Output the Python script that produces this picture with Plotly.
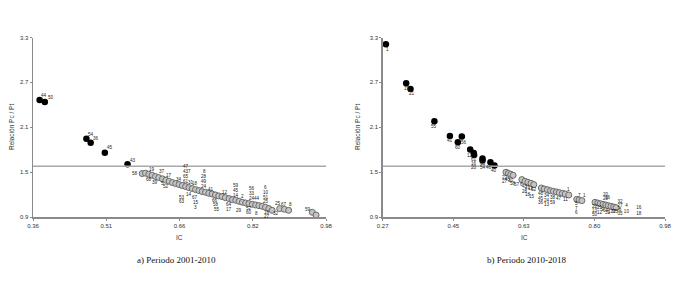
import plotly.graph_objects as go

# ---------------- DATA ----------------
threshold = 1.58

# Panel a) 2001-2010
a_black_x = [0.374, 0.385, 0.473, 0.482, 0.512, 0.560]
a_black_y = [2.464, 2.437, 1.946, 1.892, 1.758, 1.606]
a_black_lbl = ["44", "50", "54", "36", "45", "43"]

a_gray_x = [0.591, 0.598, 0.605, 0.612, 0.619, 0.626, 0.634, 0.641, 0.648, 0.655,
            0.662, 0.669, 0.676, 0.683, 0.690, 0.697, 0.704, 0.711, 0.718, 0.725,
            0.732, 0.739, 0.746, 0.753, 0.760, 0.767, 0.775, 0.782, 0.789, 0.796,
            0.803, 0.810, 0.817, 0.824, 0.831, 0.838, 0.845, 0.852, 0.859, 0.866,
            0.882, 0.892, 0.901, 0.951, 0.959]
a_gray_y = [1.481, 1.486, 1.472, 1.459, 1.441, 1.427, 1.410, 1.392, 1.378, 1.360,
            1.347, 1.334, 1.320, 1.307, 1.293, 1.280, 1.267, 1.253, 1.240, 1.231,
            1.217, 1.208, 1.195, 1.182, 1.173, 1.159, 1.146, 1.132, 1.124, 1.110,
            1.097, 1.088, 1.079, 1.070, 1.061, 1.052, 1.043, 1.030, 1.012, 0.989,
            1.012, 1.003, 0.989, 0.963, 0.927]
# labels attached to gray points: (point index, text)
a_gray_lbl_idx = [0, 3, 2, 4, 6, 6, 8, 7, 11, 13, 13, 13, 13, 14, 14, 15, 14,
                  18, 18, 18, 18, 20, 12, 12, 16, 16, 16, 25, 22, 22, 22, 28, 28, 28,
                  26, 26, 30, 29, 33, 33, 33, 32, 32, 34, 34, 37, 37, 37, 37, 37, 37,
                  39, 40, 41, 42, 43]
a_gray_lbl_txt = ["58", "19", "68", "39", "37", "5", "17", "52", "34", "61", "65", "43", "47", "7", "31", "18", "14",
                  "24", "49", "28", "8", "41", "53", "63", "67", "15", "3", "12", "66", "58", "55", "14", "45", "59",
                  "64", "17", "2", "29", "24", "33", "56", "52", "60", "44", "8", "25", "51", "10", "6", "16", "27",
                  "32", "25", "67", "8", "59"]

# Panel b) 2010-2018
b_black_x = [0.278, 0.329, 0.340, 0.400, 0.439, 0.459, 0.469, 0.490, 0.499, 0.500, 0.521, 0.521, 0.541, 0.551]
b_black_y = [3.211, 2.689, 2.613, 2.180, 1.984, 1.899, 1.975, 1.801, 1.757, 1.730, 1.681, 1.654, 1.632, 1.587]
b_black_lbl_idx = [0, 1, 2, 3, 4, 5, 6, 7, 9, 9, 9, 10, 10, 12, 13]
b_black_lbl_txt = ["1", "19", "21", "55", "41", "60", "56", "12", "61", "16", "20", "63", "54", "46", "40"]

b_gray_x = [0.580, 0.586, 0.592, 0.598,
            0.620, 0.628, 0.635, 0.643, 0.650,
            0.669, 0.676, 0.684, 0.692, 0.699, 0.707, 0.714, 0.722, 0.729, 0.738,
            0.758, 0.764, 0.771,
            0.804, 0.811, 0.817, 0.824, 0.831, 0.837, 0.844, 0.851, 0.857]
b_gray_y = [1.498, 1.484, 1.471, 1.458,
            1.400, 1.377, 1.364, 1.351, 1.333,
            1.288, 1.275, 1.266, 1.252, 1.243, 1.235, 1.226, 1.217, 1.208, 1.194,
            1.136, 1.128, 1.119,
            1.096, 1.087, 1.078, 1.070, 1.061, 1.052, 1.043, 1.034, 1.025]
b_gray_lbl_idx = [0, 0, 1, 2, 3, 3,
                  4, 5, 5, 6, 6, 7, 7, 8,
                  9, 9, 9, 11, 11, 11, 13, 13, 15, 17, 18,
                  19, 19, 19, 21, 21,
                  22, 22, 22, 24, 24, 25, 26, 26, 26, 27, 27, 28, 29, 30]
b_gray_lbl_txt = ["22", "27", "45", "30", "58", "57",
                  "6", "43", "28", "21", "18", "12", "15", "52",
                  "48", "45", "36", "34", "24", "13", "38", "59", "47", "11", "1",
                  "5", "7", "6", "7", "1",
                  "22", "13", "50", "21", "12", "9", "29", "20", "64", "16", "31", "17", "37", "23"]
# labels whose points are not drawn
b_text_x = [0.867, 0.867, 0.867, 0.867, 0.883, 0.883, 0.914, 0.914]
b_text_y = [1.101, 1.052, 0.998, 0.936, 1.052, 0.967, 1.025, 0.945]
b_text_lbl = ["32", "27", "8", "35", "4", "10", "16", "18"]

a_xticks = [0.36, 0.515, 0.67, 0.825, 0.98]
a_xtick_text = ["0.36", "0.51", "0.66", "0.82", "0.98"]
b_xticks = [0.27, 0.4475, 0.625, 0.8025, 0.98]
b_xtick_text = ["0.27", "0.45", "0.63", "0.80", "0.98"]
y_ticks = [0.9, 1.5, 2.1, 2.7, 3.3]
y_tick_text = ["0.9", "1.5", "2.1", "2.7", "3.3"]

captions = ["a) Periodo 2001-2010", "b) Periodo 2010-2018"]
y_title = "Relación Pc / Pt"
x_title = "IC"

# ---------------- LABEL OFFSETS (px) ----------------
a_black_off = [(4, 5), (6, 5), (5, 4), (5, 4), (5, 5), (5, 4)]
a_gray_off = [(-7, 0), (0, 6), (0, -5), (0, -6), (0, 7), (0, -5), (0, 6), (0, -6), (0, 5),
              (0, 5), (0, 10), (0, 15), (0, 20), (1, 16), (2, 5), (3, 5), (0, -7),
              (2, 5), (2, 10), (2, 15), (2, 20), (2, 4), (0, -12), (0, -16), (-1, -8), (0, -13), (0, -18),
              (0, 5), (0, -6), (1, -10), (2, -15), (0, 5), (0, 10), (0, 15),
              (0, -6), (0, -11), (0, 6), (0, -9), (0, 6), (0, 11), (0, 16), (0, -5), (0, -9),
              (1, 6), (1, -9), (0, 6), (0, 10), (0, 15), (0, 20), (1, -5), (1, -9),
              (4, -3), (-2, 5), (0, 5), (2, 6), (-4, 3)]
b_black_off = [(2, -5), (1, -5), (1, -5), (0, -5), (0, -5), (0, -5), (2, -6), (0, -6),
               (0, -5), (0, -9), (0, -13), (0, -5), (0, -9), (-1, -5), (0, -5)]
b_gray_off = [(-1, -5), (-1, -9), (0, -6), (0, -6), (0, -8), (4, -9),
              (0, -5), (0, -5), (0, -10), (0, -5), (0, -12), (0, -5), (1, -13), (0, -5),
              (0, -6), (0, -11), (0, -15), (0, -6), (0, -11), (0, -15), (0, -6), (0, -11), (0, -6), (0, -6), (0, 6),
              (0, -4), (0, -9), (0, -13), (-2, 5), (3, 5),
              (0, -4), (0, -8), (0, -12), (0, -4), (0, -9), (0, -5), (0, 6), (0, 10), (0, -6), (0, 8), (0, -7),
              (0, -5), (0, -5), (0, -4)]

# ---------------- FIGURE ----------------
W, H = 679, 284
fig = go.Figure()

gray_marker = dict(size=6, color="#c4c4c4", line=dict(color="#6a6a6a", width=1))
black_marker = dict(size=6.5, color="#000000")
lab_font = dict(size=4.6, color="#222", family="Liberation Sans")

fig.add_trace(go.Scatter(x=a_gray_x, y=a_gray_y, mode="markers", marker=gray_marker,
                         xaxis="x", yaxis="y", hoverinfo="skip"))
fig.add_trace(go.Scatter(x=a_black_x, y=a_black_y, mode="markers", marker=black_marker,
                         xaxis="x", yaxis="y", hoverinfo="skip"))
fig.add_trace(go.Scatter(x=b_gray_x, y=b_gray_y, mode="markers", marker=gray_marker,
                         xaxis="x2", yaxis="y2", hoverinfo="skip"))
fig.add_trace(go.Scatter(x=b_black_x, y=b_black_y, mode="markers", marker=black_marker,
                         xaxis="x2", yaxis="y2", hoverinfo="skip"))
fig.add_trace(go.Scatter(x=b_text_x, y=b_text_y, mode="text", text=b_text_lbl,
                         textfont=lab_font, xaxis="x2", yaxis="y2", hoverinfo="skip"))

ann = []


def add_labels(xs, ys, idx, txt, offs, xr, yr):
    for i, t, (dx, dy) in zip(idx, txt, offs):
        ann.append(dict(x=xs[i], y=ys[i], xref=xr, yref=yr, text=t, showarrow=False,
                        xanchor="center", yanchor="middle",
                        xshift=dx, yshift=dy, font=lab_font))


add_labels(a_black_x, a_black_y, list(range(len(a_black_lbl))), a_black_lbl, a_black_off, "x", "y")
add_labels(a_gray_x, a_gray_y, a_gray_lbl_idx, a_gray_lbl_txt, a_gray_off, "x", "y")
add_labels(b_black_x, b_black_y, b_black_lbl_idx, b_black_lbl_txt, b_black_off, "x2", "y2")
add_labels(b_gray_x, b_gray_y, b_gray_lbl_idx, b_gray_lbl_txt, b_gray_off, "x2", "y2")

title_font = dict(size=6.5, color="#333", family="Liberation Sans")
cap_font = dict(size=9, color="#111", family="Liberation Serif")
# axis titles and captions
for xc, yc_x, capx, cap in [(179.5 / W, 12 / W, 176 / W, captions[0]),
                            (524 / W, 358 / W, 526 / W, captions[1])]:
    ann.append(dict(x=yc_x, y=(H - 127) / H, xref="paper", yref="paper", text=y_title,
                    textangle=-90, showarrow=False, font=title_font,
                    xanchor="center", yanchor="middle"))
    ann.append(dict(x=xc, y=(H - 237) / H, xref="paper", yref="paper", text=x_title,
                    showarrow=False, font=title_font, xanchor="center", yanchor="middle"))
    ann.append(dict(x=capx, y=(H - 260) / H, xref="paper", yref="paper", text=cap,
                    showarrow=False, font=cap_font, xanchor="center", yanchor="middle"))

shapes = [
    dict(type="line", xref="x domain", yref="y", x0=0, x1=1, y0=threshold, y1=threshold,
         line=dict(color="#a8a8a8", width=1.5)),
    dict(type="line", xref="x2 domain", yref="y2", x0=0, x1=1, y0=threshold, y1=threshold,
         line=dict(color="#a8a8a8", width=1.5)),
]

tick_font = dict(size=6, color="#333", family="Liberation Sans")
ydom = [(H - 217) / H, (H - 37.5) / H]
common_x = dict(showline=True, linecolor="#8a8a8a", linewidth=1.5, ticks="outside", ticklen=2,
                tickcolor="#8a8a8a", showgrid=False, zeroline=False, tickfont=tick_font,
                automargin=False)
common_y = dict(showline=True, linecolor="#8a8a8a", linewidth=1.5, ticks="outside", ticklen=2,
                tickcolor="#8a8a8a", showgrid=False, zeroline=False, tickfont=tick_font,
                range=[0.9, 3.3], tickvals=y_ticks, ticktext=y_tick_text, domain=ydom,
                automargin=False)

fig.update_layout(
    template="none",
    width=W, height=H, autosize=False,
    margin=dict(l=0, r=0, t=0, b=0, pad=0, autoexpand=False),
    paper_bgcolor="white", plot_bgcolor="white",
    showlegend=False,
    xaxis=dict(common_x, domain=[33 / W, 326 / W], range=[0.36, 0.98],
               tickvals=a_xticks, ticktext=a_xtick_text, anchor="y"),
    yaxis=dict(common_y, anchor="x"),
    xaxis2=dict(common_x, domain=[382.7 / W, 665 / W], range=[0.27, 0.98],
                tickvals=b_xticks, ticktext=b_xtick_text, anchor="y2"),
    yaxis2=dict(common_y, anchor="x2"),
    annotations=ann,
    shapes=shapes,
)

fig.write_html("out.html", config={"displayModeBar": False, "staticPlot": True},
               post_script="document.body.style.margin='0';document.body.style.overflow='hidden';")
